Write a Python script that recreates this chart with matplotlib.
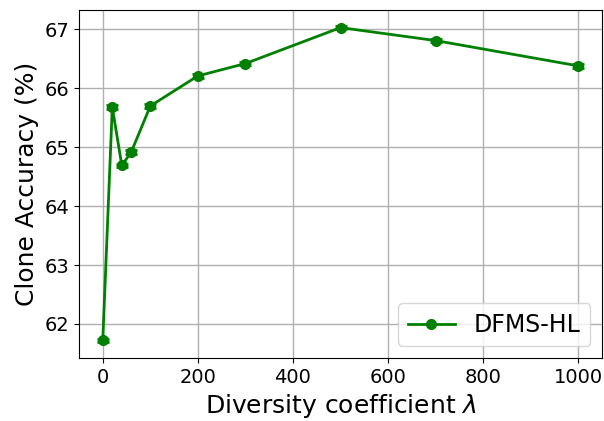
import matplotlib
matplotlib.use("Agg")
import matplotlib.pyplot as plt

lambdas = [0, 20, 40, 60, 100, 200, 300, 500, 700, 1000]
accuracy = [61.72, 65.68, 64.69, 64.92, 65.70, 66.21, 66.42, 67.03, 66.81, 66.38]
acc_err = [0.03, 0.03, 0.03, 0.03, 0.03, 0.03, 0.03, 0.03, 0.03, 0.03]

fig = plt.figure(figsize=(6.04, 4.21), dpi=100)
ax = fig.add_axes([0.1308, 0.1496, 0.866, 0.8266])
ax.errorbar(lambdas, accuracy, yerr=acc_err, color="green", fmt="none",
            capsize=4, capthick=2, elinewidth=2)
ax.plot(lambdas, accuracy, color="green", marker="o", markersize=7,
        linewidth=2, label="DFMS-HL")
ax.grid(True, color="#b0b0b0", linewidth=1)
ax.set_axisbelow(True)
ax.set_xlabel(r"Diversity coefficient $\lambda$", fontsize=18)
ax.set_ylabel("Clone Accuracy (%)", fontsize=18)
ax.tick_params(labelsize=14)
ax.legend(loc="lower right", fontsize=17)
fig.savefig("out.png", dpi=100)
